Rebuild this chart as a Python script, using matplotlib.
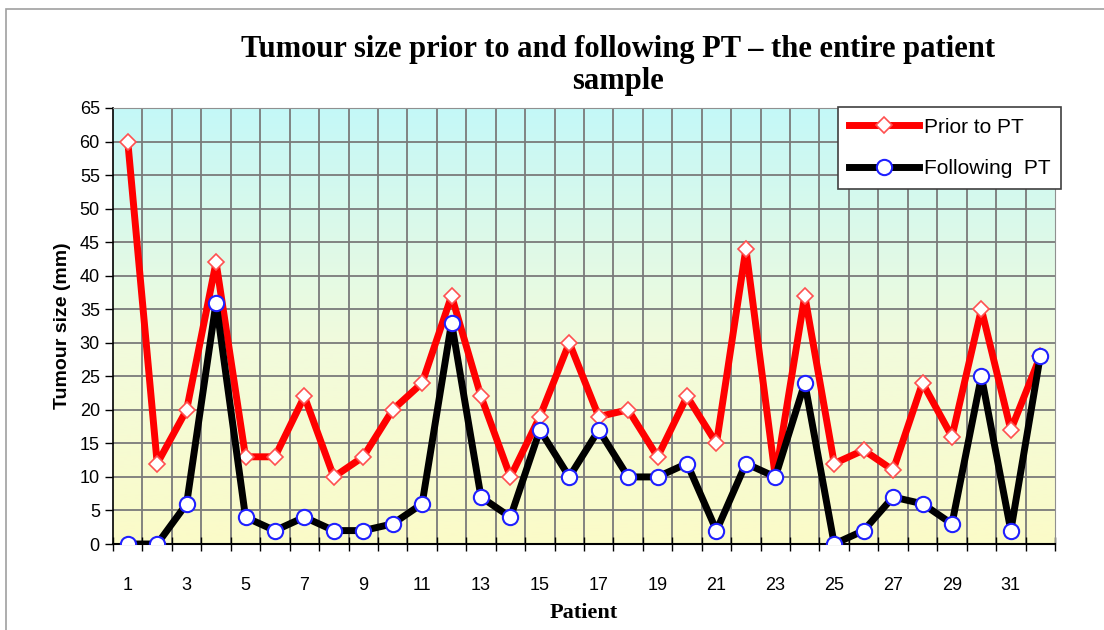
import numpy as np
import matplotlib
matplotlib.use("Agg")
import matplotlib.pyplot as plt
from matplotlib.colors import LinearSegmentedColormap
from matplotlib.patches import Rectangle

patients = np.arange(1, 33)
prior = [60, 12, 20, 42, 13, 13, 22, 10, 13, 20, 24, 37, 22, 10, 19, 30,
         19, 20, 13, 22, 15, 44, 10, 37, 12, 14, 11, 24, 16, 35, 17, 28]
following = [0, 0, 6, 36, 4, 2, 4, 2, 2, 3, 6, 33, 7, 4, 17, 10,
             17, 10, 10, 12, 2, 12, 10, 24, 0, 2, 7, 6, 3, 25, 2, 28]

tick_font = ["Liberation Sans Narrow", "Liberation Sans", "DejaVu Sans"]
serif_font = ["Liberation Serif", "DejaVu Serif"]

fig = plt.figure(figsize=(11.04, 6.3), dpi=100)
fig.patches.append(Rectangle((0.005, -0.01), 1.0, 0.995, transform=fig.transFigure,
                             fill=False, edgecolor="#a0a0a0", lw=1.2))
ax = fig.add_axes([0.1024, 0.1365, 0.8532, 0.6921])

# background gradient cyan -> pale yellow
cmap = LinearSegmentedColormap.from_list(
    "bg", [(0.0, "#fbfbc8"), (0.45, "#f2fbdc"), (1.0, "#c4f8f8")])
grad = np.linspace(0, 1, 256).reshape(-1, 1)
ax.imshow(grad, cmap=cmap, aspect="auto", origin="lower",
          extent=[0.5, 32.5, 0, 65], zorder=0)

for yv in range(5, 66, 5):
    ax.axhline(yv, color="#7a7a7a", lw=1.3, zorder=1)
for xv in np.arange(1.5, 32.5, 1):
    ax.axvline(xv, color="#7a7a7a", lw=1.3, zorder=1)

ax.plot(patients, prior, color="#ff0000", lw=5, marker="D", ms=8,
        mfc="white", mec="#ff5050", mew=1.2, label="Prior to PT", zorder=3)
ax.plot(patients, following, color="black", lw=5, marker="o", ms=11,
        mfc="white", mec="#2020ff", mew=1.5, label="Following  PT", zorder=4)

ax.set_xlim(0.5, 32.5)
ax.set_ylim(0, 65)
ax.set_yticks(range(0, 66, 5))
ax.set_xticks(range(1, 33, 2))
ax.set_xticks(np.arange(0.5, 33, 1), minor=True)
ax.tick_params(axis="x", which="major", length=0, pad=24)
ax.tick_params(axis="x", which="minor", length=10, direction="inout", width=1)
ax.tick_params(axis="y", length=6, direction="out", width=1)
for lab in ax.get_xticklabels() + ax.get_yticklabels():
    lab.set_family(tick_font)
    lab.set_fontsize(13)

for s in ["top", "right"]:
    ax.spines[s].set_color("#909090")
ax.spines["left"].set_linewidth(1.2)
ax.spines["bottom"].set_linewidth(1.5)

ax.set_xlabel("Patient", family=serif_font, fontweight="bold", fontsize=16, labelpad=6)
ax.set_ylabel("Tumour size (mm)", family=tick_font, fontweight="bold", fontsize=14, labelpad=6)
fig.suptitle("Tumour size prior to and following PT – the entire patient\nsample",
             x=0.560, y=0.945, family=serif_font, fontweight="bold", fontsize=22,
             linespacing=1.15)

leg = ax.legend(loc="upper right", bbox_to_anchor=(1.006, 1.002), fancybox=False,
                framealpha=1, edgecolor="#404040", prop={"family": tick_font, "size": 15},
                handlelength=3.4, labelspacing=1.1, borderpad=0.5, handletextpad=0.2,
                borderaxespad=0)
leg.get_frame().set_linewidth(1.2)
leg.set_zorder(10)

fig.savefig("out.png", dpi=100)
